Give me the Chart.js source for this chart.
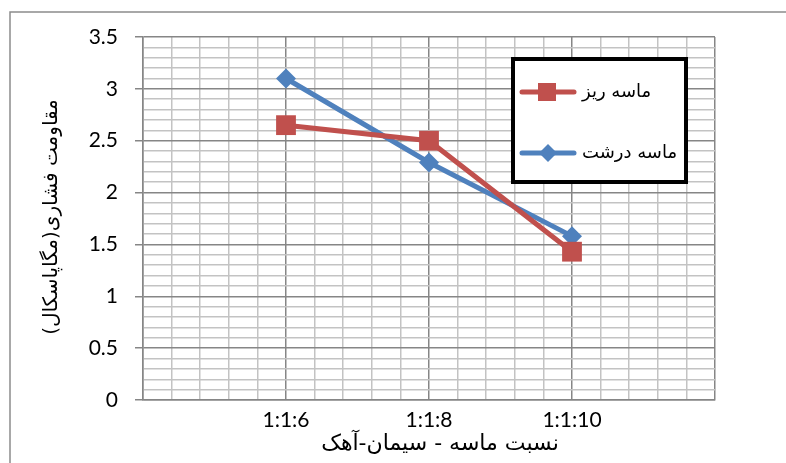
<!DOCTYPE html>
<html>
<head>
<meta charset="utf-8">
<script src="https://cdn.jsdelivr.net/npm/chart.js@4"></script>
<style>
  html, body { margin: 0; padding: 0; background: #fff; }
  #wrap { position: relative; width: 786px; height: 463px; }
</style>
</head>
<body>
<div id="wrap"><canvas id="c" width="786" height="463"></canvas></div>
<script>
// Mix ratios (sand : cement : lime)
const categories = ['1:1:6', '1:1:8', '1:1:10'];
// Compressive strength, MPa
const fineSand = [2.65, 2.5, 1.43];
const coarseSand = [3.1, 2.29, 1.58];
const seriesNames = ['ماسه ریز', 'ماسه درشت'];
const yTitle = 'مقاومت فشاری(مگاپاسکال)';
const xTitle = 'نسبت ماسه - سیمان-آهک';

const RED = '#C0504D';
const BLUE = '#4F81BD';
const MAJOR = '#868686';
const MINOR = '#c3c3c3';
const NUM_FONT = 'Lato, "Liberation Sans", sans-serif';
const FA_FONT = '"DejaVu Sans", sans-serif';

const isInt = v => Math.abs(v - Math.round(v)) < 1e-6;
const isHalf = v => Math.abs(v * 2 - Math.round(v * 2)) < 1e-6;

const toPoints = vals => vals.map((v, i) => ({ x: i + 1, y: v }));

// Frame, axis titles and the boxed legend
const decor = {
  id: 'decor',
  beforeDraw(chart) {
    const ctx = chart.ctx;
    ctx.save();
    ctx.strokeStyle = '#8c8c8c';
    ctx.lineWidth = 1.5;
    ctx.beginPath();
    ctx.moveTo(10, 463);
    ctx.lineTo(10, 12);
    ctx.lineTo(786, 12);
    ctx.stroke();
    ctx.restore();
  },
  afterDraw(chart) {
    const ctx = chart.ctx;
    ctx.save();
    ctx.fillStyle = '#000';
    ctx.textAlign = 'center';
    ctx.textBaseline = 'middle';
    ctx.font = '22px ' + FA_FONT;
    ctx.fillText(xTitle, 440, 444);
    ctx.font = '20px ' + FA_FONT;
    ctx.translate(52, 217);
    ctx.rotate(-Math.PI / 2);
    ctx.fillText(yTitle, 0, 0);
    ctx.restore();

    // legend box
    ctx.save();
    const bx = 513, by = 59, bw = 173, bh = 123;
    ctx.fillStyle = '#fff';
    ctx.fillRect(bx, by, bw, bh);
    ctx.strokeStyle = '#000';
    ctx.lineWidth = 4;
    ctx.strokeRect(bx, by, bw, bh);
    const rows = [92, 153];
    chart.data.datasets.forEach((ds, i) => {
      const y = rows[i];
      ctx.strokeStyle = ds.borderColor;
      ctx.lineWidth = 5;
      ctx.lineCap = 'round';
      ctx.beginPath();
      ctx.moveTo(522, y);
      ctx.lineTo(574, y);
      ctx.stroke();
      ctx.fillStyle = ds.backgroundColor;
      if (ds.pointStyle === 'rect') {
        ctx.fillRect(538, y - 9, 18, 18);
      } else {
        ctx.beginPath();
        ctx.moveTo(548, y - 9);
        ctx.lineTo(557, y);
        ctx.lineTo(548, y + 9);
        ctx.lineTo(539, y);
        ctx.closePath();
        ctx.fill();
      }
      ctx.fillStyle = '#000';
      ctx.font = '18px ' + FA_FONT;
      ctx.textAlign = 'left';
      ctx.textBaseline = 'middle';
      ctx.fillText(ds.label, 582, y);
    });
    ctx.restore();
  }
};

new Chart(document.getElementById('c'), {
  type: 'line',
  data: {
    datasets: [
      {
        label: seriesNames[0],
        data: toPoints(fineSand),
        borderColor: RED,
        backgroundColor: RED,
        borderWidth: 5,
        pointStyle: 'rect',
        pointRadius: 14,
        pointHoverRadius: 14,
        pointBorderWidth: 0,
        tension: 0
      },
      {
        label: seriesNames[1],
        data: toPoints(coarseSand),
        borderColor: BLUE,
        backgroundColor: BLUE,
        borderWidth: 5,
        pointStyle: 'rectRot',
        pointRadius: 10,
        pointHoverRadius: 10,
        pointBorderWidth: 0,
        tension: 0
      }
    ]
  },
  options: {
    responsive: false,
    animation: false,
    events: [],
    layout: { padding: { top: 37, right: 71, bottom: 0, left: 0 } },
    plugins: { legend: { display: false }, tooltip: { enabled: false } },
    scales: {
      x: {
        type: 'linear',
        min: 0,
        max: categories.length + 1,
        afterBuildTicks(scale) {
          const t = [];
          for (let i = 0; i <= (categories.length + 1) * 5; i++) t.push({ value: i / 5 });
          scale.ticks = t;
        },
        afterFit(scale) { scale.height = 63; },
        grid: {
          color: c => isInt(c.tick.value) ? MAJOR : MINOR,
          lineWidth: 1.5,
          drawTicks: false
        },
        border: { color: MAJOR, width: 1.5 },
        ticks: {
          autoSkip: false,
          maxRotation: 0,
          padding: 8,
          color: '#000',
          font: { family: NUM_FONT, size: 21 },
          callback: v => {
            if (!isInt(v)) return '';
            const i = Math.round(v) - 1;
            return categories[i] || '';
          }
        }
      },
      y: {
        min: 0,
        max: 3.5,
        afterBuildTicks(scale) {
          const t = [];
          for (let i = 0; i <= 35; i++) t.push({ value: i / 10 });
          scale.ticks = t;
        },
        afterFit(scale) { scale.width = 143; },
        grid: {
          color: c => isHalf(c.tick.value) ? MAJOR : MINOR,
          tickColor: c => isHalf(c.tick.value) ? MAJOR : 'rgba(0,0,0,0)',
          lineWidth: 1.5,
          tickLength: 8
        },
        border: { color: MAJOR, width: 1.5 },
        ticks: {
          autoSkip: false,
          padding: 17,
          color: '#000',
          font: { family: NUM_FONT, size: 21 },
          callback: v => isHalf(v) ? String(Math.round(v * 10) / 10) : ''
        }
      }
    }
  },
  plugins: [decor]
});
</script>
</body>
</html>
